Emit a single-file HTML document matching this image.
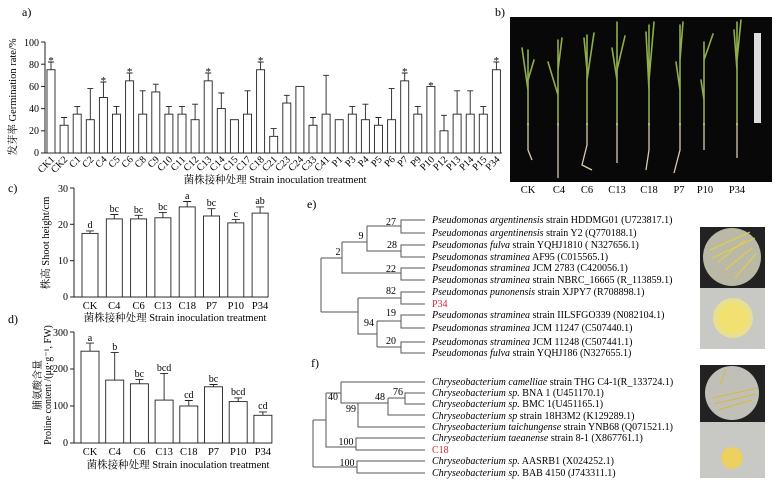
<!DOCTYPE html>
<html><head><meta charset="utf-8"><style>
body{margin:0;background:#fff;}
svg{display:block;font-family:"Liberation Serif","Noto Serif CJK SC",serif;}
</style></head><body>
<svg width="778" height="486" viewBox="0 0 778 486" xmlns="http://www.w3.org/2000/svg">
<rect width="778" height="486" fill="#fff"/>
<!-- Panel a -->
<text x="22" y="16" font-size="12">a)</text>
<g stroke="#222" stroke-width="1" fill="none">
<line x1="45" y1="42" x2="45" y2="153"/><line x1="45" y1="153" x2="502" y2="153"/>
<line x1="41" y1="153" x2="45" y2="153"/><line x1="41" y1="130.8" x2="45" y2="130.8"/><line x1="41" y1="108.6" x2="45" y2="108.6"/><line x1="41" y1="86.4" x2="45" y2="86.4"/><line x1="41" y1="64.2" x2="45" y2="64.2"/><line x1="41" y1="42" x2="45" y2="42"/>
</g>
<g font-size="10" text-anchor="end">
<text x="39" y="156">0</text><text x="39" y="134">20</text><text x="39" y="112">40</text><text x="39" y="90">60</text><text x="39" y="68">80</text><text x="39" y="46">100</text>
</g>
<text transform="translate(16,97) rotate(-90)" font-size="10.5" text-anchor="middle">发芽率 Germination rate/%</text>
<g stroke="#222" stroke-width="0.9" fill="#fff">
<rect x="47" y="69.75" width="8" height="83.25"/><path d="M51 69.75V62M48 62H54"/>
<rect x="60.1" y="125.25" width="8" height="27.75"/><path d="M64.1 125.25V117.5M61.1 117.5H67.1"/>
<rect x="73.2" y="114.15" width="8" height="38.85"/><path d="M77.2 114.15V106.4M74.2 106.4H80.2"/>
<rect x="86.3" y="119.7" width="8" height="33.3"/><path d="M90.3 119.7V88.6M87.3 88.6H93.3"/>
<rect x="99.4" y="97.5" width="8" height="55.5"/><path d="M103.4 97.5V82M100.4 82H106.4"/>
<rect x="112.5" y="114.15" width="8" height="38.85"/><path d="M116.5 114.15V106.4M113.5 106.4H119.5"/>
<rect x="125.6" y="80.85" width="8" height="72.15"/><path d="M129.6 80.85V73M126.6 73H132.6"/>
<rect x="138.7" y="114.15" width="8" height="38.85"/><path d="M142.7 114.15V90.8M139.7 90.8H145.7"/>
<rect x="151.8" y="91.95" width="8" height="61.05"/><path d="M155.8 91.95V84.2M152.8 84.2H158.8"/>
<rect x="164.9" y="114.15" width="8" height="38.85"/><path d="M168.9 114.15V106.4M165.9 106.4H171.9"/>
<rect x="178" y="114.15" width="8" height="38.85"/><path d="M182 114.15V106.4M179 106.4H185"/>
<rect x="191.1" y="119.7" width="8" height="33.3"/><path d="M195.1 119.7V104.2M192.1 104.2H198.1"/>
<rect x="204.2" y="80.85" width="8" height="72.15"/><path d="M208.2 80.85V73M205.2 73H211.2"/>
<rect x="217.3" y="108.6" width="8" height="44.4"/><path d="M221.3 108.6V93M218.3 93H224.3"/>
<rect x="230.4" y="119.7" width="8" height="33.3"/>
<rect x="243.5" y="114.15" width="8" height="38.85"/><path d="M247.5 114.15V90.8M244.5 90.8H250.5"/>
<rect x="256.6" y="69.75" width="8" height="83.25"/><path d="M260.6 69.75V62M257.6 62H263.6"/>
<rect x="269.7" y="136.35" width="8" height="16.65"/><path d="M273.7 136.35V128.6M270.7 128.6H276.7"/>
<rect x="282.8" y="103.05" width="8" height="49.95"/><path d="M286.8 103.05V95.3M283.8 95.3H289.8"/>
<rect x="295.9" y="86.4" width="8" height="66.6"/>
<rect x="309" y="125.25" width="8" height="27.75"/><path d="M313 125.25V117.5M310 117.5H316"/>
<rect x="322.1" y="114.15" width="8" height="38.85"/><path d="M326.1 114.15V75.3M323.1 75.3H329.1"/>
<rect x="335.2" y="119.7" width="8" height="33.3"/>
<rect x="348.3" y="114.15" width="8" height="38.85"/><path d="M352.3 114.15V106.4M349.3 106.4H355.3"/>
<rect x="361.4" y="119.7" width="8" height="33.3"/><path d="M365.4 119.7V104.2M362.4 104.2H368.4"/>
<rect x="374.5" y="125.25" width="8" height="27.75"/><path d="M378.5 125.25V117.5M375.5 117.5H381.5"/>
<rect x="387.6" y="119.7" width="8" height="33.3"/><path d="M391.6 119.7V88.6M388.6 88.6H394.6"/>
<rect x="400.7" y="80.85" width="8" height="72.15"/><path d="M404.7 80.85V73M401.7 73H407.7"/>
<rect x="413.8" y="114.15" width="8" height="38.85"/><path d="M417.8 114.15V106.4M414.8 106.4H420.8"/>
<rect x="426.9" y="86.4" width="8" height="66.6"/>
<rect x="440" y="130.8" width="8" height="22.2"/><path d="M444 130.8V115.3M441 115.3H447"/>
<rect x="453.1" y="114.15" width="8" height="38.85"/><path d="M457.1 114.15V90.8M454.1 90.8H460.1"/>
<rect x="466.2" y="114.15" width="8" height="38.85"/><path d="M470.2 114.15V90.8M467.2 90.8H473.2"/>
<rect x="479.3" y="114.15" width="8" height="38.85"/><path d="M483.3 114.15V106.4M480.3 106.4H486.3"/>
<rect x="492.4" y="69.75" width="8" height="83.25"/><path d="M496.4 69.75V62M493.4 62H499.4"/>
</g>
<g font-size="11" text-anchor="middle">
<text x="51" y="64">*</text><text x="103.4" y="84">*</text><text x="129.6" y="75">*</text><text x="208.2" y="75">*</text><text x="260.6" y="64">*</text><text x="404.7" y="75">*</text><text x="430.9" y="89">*</text><text x="496.4" y="64">*</text>
</g>
<g font-size="10" text-anchor="end">
<text transform="translate(55,160) rotate(-45)">CK1</text>
<text transform="translate(68.1,160) rotate(-45)">CK2</text>
<text transform="translate(81.2,160) rotate(-45)">C1</text>
<text transform="translate(94.3,160) rotate(-45)">C2</text>
<text transform="translate(107.4,160) rotate(-45)">C4</text>
<text transform="translate(120.5,160) rotate(-45)">C5</text>
<text transform="translate(133.6,160) rotate(-45)">C6</text>
<text transform="translate(146.7,160) rotate(-45)">C8</text>
<text transform="translate(159.8,160) rotate(-45)">C9</text>
<text transform="translate(172.9,160) rotate(-45)">C10</text>
<text transform="translate(186,160) rotate(-45)">C11</text>
<text transform="translate(199.1,160) rotate(-45)">C12</text>
<text transform="translate(212.2,160) rotate(-45)">C13</text>
<text transform="translate(225.3,160) rotate(-45)">C14</text>
<text transform="translate(238.4,160) rotate(-45)">C15</text>
<text transform="translate(251.5,160) rotate(-45)">C17</text>
<text transform="translate(264.6,160) rotate(-45)">C18</text>
<text transform="translate(277.7,160) rotate(-45)">C21</text>
<text transform="translate(290.8,160) rotate(-45)">C23</text>
<text transform="translate(303.9,160) rotate(-45)">C24</text>
<text transform="translate(317,160) rotate(-45)">C33</text>
<text transform="translate(330.1,160) rotate(-45)">C41</text>
<text transform="translate(343.2,160) rotate(-45)">P1</text>
<text transform="translate(356.3,160) rotate(-45)">P3</text>
<text transform="translate(369.4,160) rotate(-45)">P4</text>
<text transform="translate(382.5,160) rotate(-45)">P5</text>
<text transform="translate(395.6,160) rotate(-45)">P6</text>
<text transform="translate(408.7,160) rotate(-45)">P7</text>
<text transform="translate(421.8,160) rotate(-45)">P9</text>
<text transform="translate(434.9,160) rotate(-45)">P10</text>
<text transform="translate(448,160) rotate(-45)">P12</text>
<text transform="translate(461.1,160) rotate(-45)">P13</text>
<text transform="translate(474.2,160) rotate(-45)">P14</text>
<text transform="translate(487.3,160) rotate(-45)">P15</text>
<text transform="translate(500.4,160) rotate(-45)">P34</text>
</g>
<text x="275" y="183" font-size="10.5" text-anchor="middle">菌株接种处理 Strain inoculation treatment</text>

<!-- Panel b -->
<text x="495" y="16" font-size="12">b)</text>
<rect x="510" y="17" width="262" height="165" fill="#080808"/>
<g stroke="#8fae4a" stroke-width="1.6" fill="none" stroke-linecap="round">
<path d="M528 125V50M528 90L522 48M528 80L534 60"/>
<path d="M558 125V40M558 95L548 62M558 70L562 38"/>
<path d="M587 125V35M587 70L584 38M587 80L594 33"/>
<path d="M617 125V22M617 80L612 48M617 70L625 36"/>
<path d="M649 125V25M649 90L646 32M649 80L654 22"/>
<path d="M680 125V25M680 90L676 62M680 60L683 22"/>
<path d="M704 125V42M704 100L701 80M704 60L713 34"/>
<path d="M737 125V22M737 70L734 30M737 60L741 20"/>
</g>
<g stroke="#d8cbb0" stroke-width="1.3" fill="none">
<path d="M528 123V150L532 160"/><path d="M558 123V178"/><path d="M587 123V145L582 165L592 170"/><path d="M617 123V163"/><path d="M649 123V150L646 170"/><path d="M680 123V150L674 173"/><path d="M704 123V150"/><path d="M737 123V158"/>
</g>
<rect x="754" y="33" width="7" height="90" fill="#ddd"/>
<g font-size="10.5" text-anchor="middle">
<text x="528" y="193">CK</text><text x="559" y="193">C4</text><text x="587" y="193">C6</text><text x="617" y="193">C13</text><text x="649" y="193">C18</text><text x="679" y="193">P7</text><text x="705" y="193">P10</text><text x="737" y="193">P34</text>
</g>

<!-- Panel c -->
<text x="8" y="192" font-size="12">c)</text>
<g stroke="#222" stroke-width="1" fill="none">
<line x1="74" y1="188" x2="74" y2="297"/><line x1="74" y1="297" x2="268" y2="297"/>
<line x1="70" y1="297" x2="74" y2="297"/><line x1="70" y1="260.7" x2="74" y2="260.7"/><line x1="70" y1="224.3" x2="74" y2="224.3"/><line x1="70" y1="188" x2="74" y2="188"/>
</g>
<g font-size="10" text-anchor="end"><text x="68" y="300">0</text><text x="68" y="264">10</text><text x="68" y="228">20</text><text x="68" y="192">30</text></g>
<text transform="translate(49,243) rotate(-90)" font-size="10.5" text-anchor="middle">株高 Shoot height/cm</text>
<g stroke="#222" stroke-width="0.9" fill="#fff">
<rect x="82" y="233.4" width="16" height="63.6"/><path d="M90 233.4V230.9M86 230.9H94"/>
<rect x="106.3" y="218.9" width="16" height="78.1"/><path d="M114.3 218.9V214.5M110.3 214.5H118.3"/>
<rect x="130.6" y="218.9" width="16" height="78.1"/><path d="M138.6 218.9V215.3M134.6 215.3H142.6"/>
<rect x="154.9" y="217.8" width="16" height="79.2"/><path d="M162.9 217.8V212.4M158.9 212.4H166.9"/>
<rect x="179.2" y="206.9" width="16" height="90.1"/><path d="M187.2 206.9V201.5M183.2 201.5H191.2"/>
<rect x="203.5" y="216" width="16" height="81"/><path d="M211.5 216V208.7M207.5 208.7H215.5"/>
<rect x="227.8" y="222.9" width="16" height="74.1"/><path d="M235.8 222.9V219.6M231.8 219.6H239.8"/>
<rect x="252.1" y="213.1" width="16" height="83.9"/><path d="M260.1 213.1V206.9M256.1 206.9H264.1"/>
</g>
<g font-size="10" text-anchor="middle">
<text x="90" y="228">d</text><text x="114.3" y="212">bc</text><text x="138.6" y="213">bc</text><text x="162.9" y="210">bc</text><text x="187.2" y="199">a</text><text x="211.5" y="206">bc</text><text x="235.8" y="217">c</text><text x="260.1" y="204">ab</text>
</g>
<g font-size="10.5" text-anchor="middle">
<text x="90" y="309">CK</text><text x="114.3" y="309">C4</text><text x="138.6" y="309">C6</text><text x="162.9" y="309">C13</text><text x="187.2" y="309">C18</text><text x="211.5" y="309">P7</text><text x="235.8" y="309">P10</text><text x="260.1" y="309">P34</text>
</g>
<text x="175" y="321" font-size="10.5" text-anchor="middle">菌株接种处理 Strain inoculation treatment</text>

<!-- Panel d -->
<text x="8" y="323" font-size="12">d)</text>
<g stroke="#222" stroke-width="1" fill="none">
<line x1="74" y1="332" x2="74" y2="443"/><line x1="74" y1="443" x2="272" y2="443"/>
<line x1="70" y1="443" x2="74" y2="443"/><line x1="70" y1="406" x2="74" y2="406"/><line x1="70" y1="369" x2="74" y2="369"/><line x1="70" y1="332" x2="74" y2="332"/>
</g>
<g font-size="10" text-anchor="end"><text x="68" y="446">0</text><text x="68" y="409">100</text><text x="68" y="372">200</text><text x="68" y="336">300</text></g>
<text transform="translate(41,385) rotate(-90)" font-size="10" text-anchor="middle">脯氨酸含量</text>
<text transform="translate(51,385) rotate(-90)" font-size="10" text-anchor="middle">Proline content /(μg·g⁻¹, FW)</text>
<g stroke="#222" stroke-width="0.9" fill="#fff">
<rect x="81" y="351.2" width="18" height="91.8"/><path d="M90 351.2V343.1M86 343.1H94"/>
<rect x="105.7" y="380.1" width="18" height="62.9"/><path d="M114.7 380.1V352.4M110.7 352.4H118.7"/>
<rect x="130.4" y="383.8" width="18" height="59.2"/><path d="M139.4 383.8V379.4M135.4 379.4H143.4"/>
<rect x="155.1" y="400.1" width="18" height="42.9"/><path d="M164.1 400.1V373.4M160.1 373.4H168.1"/>
<rect x="179.8" y="406" width="18" height="37"/><path d="M188.8 406V400.5M184.8 400.5H192.8"/>
<rect x="204.5" y="386.8" width="18" height="56.2"/><path d="M213.5 386.8V384.5M209.5 384.5H217.5"/>
<rect x="229.2" y="401.6" width="18" height="41.4"/><path d="M238.2 401.6V397.9M234.2 397.9H242.2"/>
<rect x="253.9" y="415.3" width="18" height="27.7"/><path d="M262.9 415.3V411.9M258.9 411.9H266.9"/>
</g>
<g font-size="10" text-anchor="middle">
<text x="90" y="341">a</text><text x="114.7" y="350">b</text><text x="139.4" y="377">bc</text><text x="164.1" y="371">bcd</text><text x="188.8" y="398">cd</text><text x="213.5" y="382">bc</text><text x="238.2" y="395">bcd</text><text x="262.9" y="409">cd</text>
</g>
<g font-size="10.5" text-anchor="middle">
<text x="90" y="455">CK</text><text x="114.7" y="455">C4</text><text x="139.4" y="455">C6</text><text x="164.1" y="455">C13</text><text x="188.8" y="455">C18</text><text x="213.5" y="455">P7</text><text x="238.2" y="455">P10</text><text x="262.9" y="455">P34</text>
</g>
<text x="178" y="468" font-size="10.5" text-anchor="middle">菌株接种处理 Strain inoculation treatment</text>

<!-- Panel e -->
<text x="307" y="208" font-size="12">e)</text>
<g stroke="#555" stroke-width="1" fill="none">
<path d="M321 258V312"/><path d="M321 258H342"/><path d="M321 312H358"/>
<path d="M342 242V273H401"/><path d="M342 242H367"/>
<path d="M367 226V251H401"/><path d="M367 226H401"/>
<path d="M425 220H401V233H425"/><path d="M425 245H401V257H425"/><path d="M425 268H401V280H425"/>
<path d="M358 298V334H377"/><path d="M358 298H401"/>
<path d="M425 292H401V304H425"/>
<path d="M377 321V347"/><path d="M377 321H401"/><path d="M377 347H401"/>
<path d="M425 315H401V328H425"/><path d="M425 342H401V353H425"/>
</g>
<g font-size="10" text-anchor="middle">
<text x="391" y="225">27</text><text x="361" y="239">9</text><text x="392" y="248">28</text><text x="338" y="255">2</text><text x="391" y="272">22</text><text x="391" y="294">82</text><text x="391" y="316">19</text><text x="369" y="326">94</text><text x="391" y="344">20</text>
</g>
<g font-size="10">
<text x="432" y="223"><tspan font-style="italic">Pseudomonas argentinensis</tspan> strain HDDMG01 (U723817.1)</text>
<text x="432" y="236"><tspan font-style="italic">Pseudomonas argentinensis</tspan> strain Y2 (Q770188.1)</text>
<text x="432" y="248"><tspan font-style="italic">Pseudomonas fulva</tspan> strain YQHJ1810 ( N327656.1)</text>
<text x="432" y="260"><tspan font-style="italic">Pseudomonas straminea</tspan> AF95 (C015565.1)</text>
<text x="432" y="271"><tspan font-style="italic">Pseudomonas straminea</tspan> JCM 2783 (C420056.1)</text>
<text x="432" y="283"><tspan font-style="italic">Pseudomonas straminea</tspan> strain NBRC_16665 (R_113859.1)</text>
<text x="432" y="295"><tspan font-style="italic">Pseudomonas punonensis</tspan> strain XJPY7 (R708898.1)</text>
<text x="432" y="307" fill="#d0283a">P34</text>
<text x="432" y="318"><tspan font-style="italic">Pseudomonas straminea</tspan> strain IILSFGO339 (N082104.1)</text>
<text x="432" y="331"><tspan font-style="italic">Pseudomonas straminea</tspan> JCM 11247 (C507440.1)</text>
<text x="432" y="345"><tspan font-style="italic">Pseudomonas straminea</tspan> JCM 11248 (C507441.1)</text>
<text x="432" y="356"><tspan font-style="italic">Pseudomonas fulva</tspan> strain YQHJ186 (N327655.1)</text>
</g>
<rect x="700" y="227" width="65" height="61" fill="#222"/>
<circle cx="732" cy="257" r="29" fill="#b9b9a6"/>
<g stroke="#e5cf46" stroke-width="1"><path d="M710 250L750 232M712 258L755 238M718 262L745 240M725 270L752 248M735 278L756 254"/></g>
<rect x="700" y="288" width="65" height="61" fill="#c8c8c4"/>
<circle cx="733" cy="318" r="20" fill="#e8e090"/>
<circle cx="733" cy="318" r="15" fill="#f0e170"/>

<!-- Panel f -->
<text x="311" y="367" font-size="12">f)</text>
<g stroke="#555" stroke-width="1" fill="none">
<path d="M313 420V467"/><path d="M313 420H326"/><path d="M313 467H357"/>
<path d="M326 393V447H356"/><path d="M326 393H341"/>
<path d="M341 382V403H358"/><path d="M341 382H425"/>
<path d="M358 403V427H425"/><path d="M358 403H388"/>
<path d="M388 398V415H425"/><path d="M388 398H405"/>
<path d="M425 393H405V404H425"/>
<path d="M425 438H356V450H425"/>
<path d="M425 461H357V473H425"/>
</g>
<g font-size="10" text-anchor="middle">
<text x="333" y="400">40</text><text x="351" y="412">99</text><text x="380" y="400">48</text><text x="398" y="395">76</text><text x="346" y="445">100</text><text x="347" y="466">100</text>
</g>
<g font-size="10">
<text x="432" y="385"><tspan font-style="italic">Chryseobacterium camelliae</tspan> strain THG C4-1(R_133724.1)</text>
<text x="432" y="396"><tspan font-style="italic">Chryseobacterium sp.</tspan> BNA 1 (U451170.1)</text>
<text x="432" y="407"><tspan font-style="italic">Chryseobacterium sp.</tspan> BMC 1(U451165.1)</text>
<text x="432" y="419"><tspan font-style="italic">Chryseobacterium sp</tspan> strain 18H3M2 (K129289.1)</text>
<text x="432" y="430"><tspan font-style="italic">Chryseobacterium taichungense</tspan> strain YNB68 (Q071521.1)</text>
<text x="432" y="441"><tspan font-style="italic">Chryseobacterium taeanense</tspan> strain 8-1 (X867761.1)</text>
<text x="432" y="453" fill="#d0283a">C18</text>
<text x="432" y="464"><tspan font-style="italic">Chryseobacterium sp.</tspan> AASRB1 (X024252.1)</text>
<text x="432" y="476"><tspan font-style="italic">Chryseobacterium sp.</tspan> BAB 4150 (J743311.1)</text>
</g>
<rect x="700" y="365" width="65" height="57" fill="#222"/>
<circle cx="732" cy="393" r="27" fill="#c0c0b8"/>
<g stroke="#d8b840" stroke-width="1"><path d="M712 398L758 388M714 404L756 394M718 410L752 400M720 385L726 370"/></g>
<rect x="700" y="422" width="65" height="56" fill="#c8c8c4"/>
<circle cx="732" cy="458" r="11" fill="#ecd060"/>
</svg>
</body></html>
